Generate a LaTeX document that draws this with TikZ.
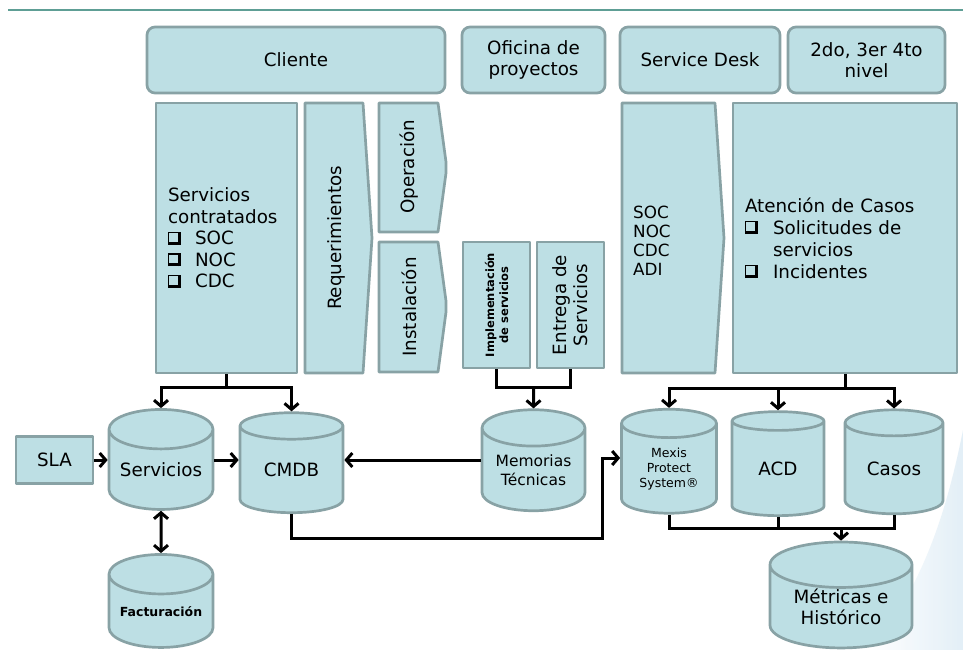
\documentclass[tikz,border=0pt]{standalone}
\usepackage{fontspec}
\setmainfont{DejaVu Sans}
\usetikzlibrary{shapes.geometric,arrows.meta,calc}
\definecolor{fillc}{HTML}{BDDFE4}
\definecolor{strokec}{HTML}{88A2A5}
\definecolor{topline}{HTML}{5E9E95}
\definecolor{swoosh}{HTML}{DCEBF5}
\newcommand{\chk}{\rlap{\rule{13pt}{3pt}}\rlap{\rule{1.3pt}{13pt}}\rlap{\raisebox{11.7pt}{\rule{10.5pt}{1.3pt}}}\rlap{\hspace{10pt}\rule{3pt}{13pt}}}
\begin{document}
\begin{tikzpicture}[x=1pt,y=-1pt,
  shp/.style={draw=strokec,fill=fillc,line width=2.7pt,line join=round},
  bigfont/.style={font=\fontsize{18.3}{21.5}\selectfont},
  hdr/.style={shp,rounded corners=8pt,inner sep=0pt,align=center,bigfont},
  boxn/.style={shp,rectangle,inner sep=0pt},
  txt/.style={inner sep=0pt,align=center,bigfont},
  cyl/.style={shp,cylinder,shape border rotate=90,aspect=0.48,inner sep=0pt,align=center,bigfont},
  conn/.style={draw=black,line width=3pt,line cap=butt,line join=miter},
  >={Straight Barb[length=6pt,width=14pt,line width=3pt]}
]
\useasboundingbox (0,0) rectangle (963,650);
\fill[white] (0,0) rectangle (963,650);
\shade[left color=white,right color=swoosh,opacity=0.8] (870,650) .. controls (920,590) and (945,520) .. (963,430) -- (963,650) -- cycle;
\draw[topline,line width=2pt] (8,10) -- (963,10);

% headers
\node[hdr,minimum width=298pt,minimum height=66pt] (cli) at (296,60) {Cliente};
\node[hdr,minimum width=143pt,minimum height=66pt,font=\fontsize{18.3}{21}\selectfont] (ofi) at (533.5,60) {Oficina de\\proyectos};
\node[hdr,minimum width=160pt,minimum height=66pt] (sd) at (700,60) {Service Desk};
\node[hdr,minimum width=157pt,minimum height=66pt,font=\fontsize{18.3}{21}\selectfont] (niv) at (866.5,60) {2do, 3er 4to\\nivel};

% Servicios contratados
\node[boxn,minimum width=141pt,minimum height=270pt,text width=117pt,inner xsep=12pt,align=left,bigfont] (sc) at (226.5,238)
 {Servicios\\contratados\\\makebox[27pt][l]{\chk}SOC\\\makebox[27pt][l]{\chk}NOC\\\makebox[27pt][l]{\chk}CDC};

% chevrons
\draw[shp] (305,103) -- (363,103) -- (372,238) -- (363,373) -- (305,373) -- cycle;
\node[txt,rotate=90] (req) at (336,238) {Requerimientos};
\draw[shp] (379,103) -- (438,103) -- (446,162) -- (446,173) -- (438,232) -- (379,232) -- cycle;
\node[txt,rotate=90] (ope) at (409,167) {Operación};
\draw[shp] (379,242) -- (438,242) -- (446,301) -- (446,312) -- (438,372) -- (379,372) -- cycle;
\node[txt,rotate=90] (ins) at (409,307) {Instalación};

% Oficina de proyectos
\node[boxn,minimum width=67pt,minimum height=126pt] (impl) at (496.5,305) {};
\node[txt,rotate=90,font=\bfseries\fontsize{11.5}{14}\selectfont] (implt) at (impl.center) {Implementación\\de servicios};
\node[boxn,minimum width=67pt,minimum height=126pt] (ent) at (570.5,305) {};
\node[txt,rotate=90,font=\fontsize{18.3}{21}\selectfont] (entt) at (ent.center) {Entrega de\\Servicios};

% Service desk chevron
\draw[shp] (622,103) -- (715,103) -- (724,238) -- (715,373) -- (622,373) -- cycle;
\node[inner sep=0pt,align=left,anchor=west,font=\fontsize{16.8}{19}\selectfont] (sdt) at (633,241) {SOC\\NOC\\CDC\\ADI};

% Atencion de casos
\node[boxn,minimum width=224pt,minimum height=270pt,text width=200pt,inner xsep=12pt,align=left,font=\fontsize{18.3}{22}\selectfont] (ate) at (845,238)
 {Atención de Casos\\\makebox[28pt][l]{\chk}Solicitudes de\\\hspace*{28pt}servicios\\\makebox[28pt][l]{\chk}Incidentes};

% bottom
\node[boxn,minimum width=77pt,minimum height=47pt,bigfont] (sla) at (54.5,460) {SLA};
\node[cyl,minimum width=104pt,minimum height=100pt] (serv) at (161,470) {Servicios};
\node[cyl,minimum width=103pt,minimum height=100pt] (cmdb) at (291.5,470) {CMDB};
\node[cyl,minimum width=104pt,minimum height=93pt,font=\bfseries\fontsize{12.5}{14}\selectfont] (fact) at (161,611.5) {Facturación};
\node[cyl,minimum width=103pt,minimum height=101pt,font=\fontsize{15.5}{19}\selectfont] (mem) at (533.5,470) {Memorias\\Técnicas};
\node[cyl,minimum width=95pt,minimum height=104pt,font=\fontsize{12.5}{15}\selectfont] (mexis) at (669,469) {Mexis\\Protect\\System®};
\node[cyl,minimum width=92pt,minimum height=104pt] (acd) at (778,469) {ACD};
\node[cyl,minimum width=98pt,minimum height=104pt] (casos) at (894,469) {Casos};
\node[cyl,minimum width=142pt,minimum height=98pt] (metr) at (841,607) {Métricas e\\Histórico};

% connectors
\coordinate (js) at (226.5,387);
\draw[conn] (sc.south) -- (js);
\draw[conn,->] (js) -| (serv.north);
\draw[conn,->] (js) -| (cmdb.north);

\coordinate (jm) at (533.5,387);
\draw[conn] (impl.south) |- (jm) -| (ent.south);
\draw[conn,->] (jm) -- (mem.north);

\coordinate (ja) at (845,388);
\draw[conn] (ate.south) -- (ja);
\draw[conn,->] (ja) -| (mexis.north);
\draw[conn,->] (ja) -| (casos.north);
\draw[conn,->] (acd.north |- ja) -- (acd.north);

\draw[conn,->] (sla.east) -- (sla.east -| serv.west);
\draw[conn,->] (serv.east |- sla.east) -- (cmdb.west |- sla.east);
\draw[conn,<->] (serv.south) -- (fact.north);
\draw[conn,->] (mem.west |- sla.east) -- (cmdb.east |- sla.east);

\coordinate (jc) at (602,538);
\coordinate (jd) at (602,458);
\draw[conn,->] (cmdb.south) |- (jc) -- (jd) -- (jd -| mexis.west);

\coordinate (jb) at (841,528);
\draw[conn] (mexis.south) |- (jb);
\draw[conn] (casos.south) |- (jb);
\draw[conn] (acd.south) -- (acd.south |- jb);
\draw[conn,->] (jb) -- (metr.north);
\end{tikzpicture}
\end{document}
